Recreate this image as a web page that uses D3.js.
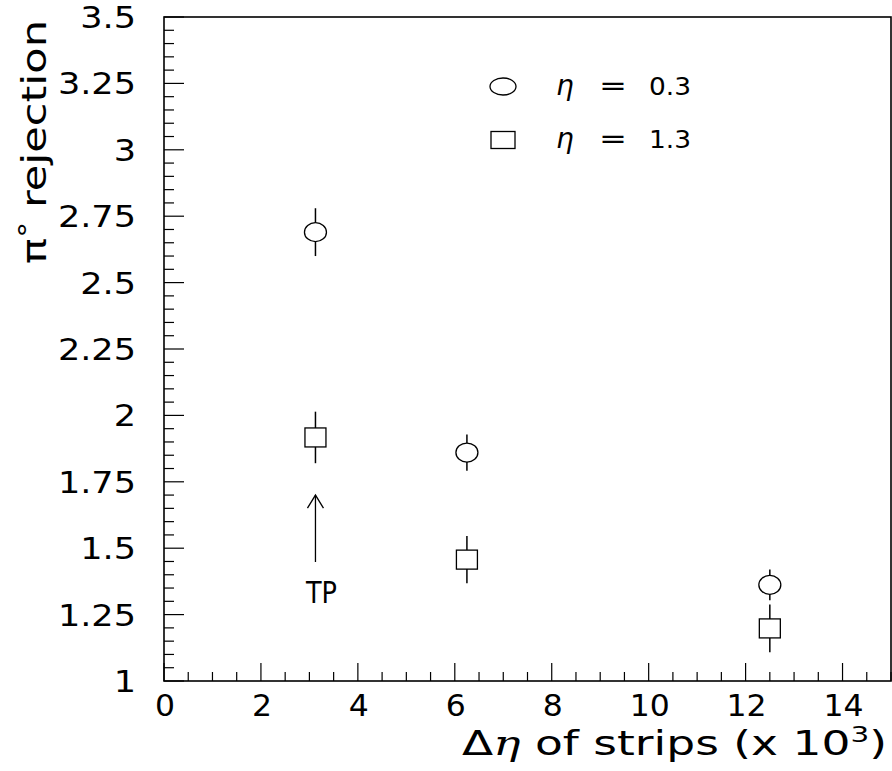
<!DOCTYPE html>
<html><head><meta charset="utf-8">
<script src="https://cdn.jsdelivr.net/npm/d3@7"></script>
<style>body{margin:0;background:#fff}svg{display:block}text{font-family:"DejaVu Sans",sans-serif;fill:#000}</style>
</head><body>
<script>
// Data
const xValues = [3.125, 6.25, 12.5];
const eta03Values = [2.69, 1.86, 1.362];
const eta03Errors = [0.09, 0.068, 0.058];
const eta13Values = [1.917, 1.457, 1.198];
const eta13Errors = [0.097, 0.089, 0.09];
const yTickValues = [1, 1.25, 1.5, 1.75, 2, 2.25, 2.5, 2.75, 3, 3.25, 3.5];
const yTickLabels = ["1", "1.25", "1.5", "1.75", "2", "2.25", "2.5", "2.75", "3", "3.25", "3.5"];
const xTickValues = [0, 2, 4, 6, 8, 10, 12, 14];
const xTickLabels = ["0", "2", "4", "6", "8", "10", "12", "14"];
const legendLabels = ["0.3", "1.3"];

const W = 892, H = 771;
const L = 164, R = 891, T = 17, B = 681;
const svg = d3.select("body").append("svg").attr("width", W).attr("height", H);
const x = d3.scaleLinear().domain([0, 15]).range([L, R]);
const y = d3.scaleLinear().domain([1, 3.5]).range([B, T]);

// frame
svg.append("rect").attr("x", L).attr("y", T).attr("width", R - L).attr("height", B - T)
  .attr("fill", "none").attr("stroke", "#000").attr("stroke-width", 1.6);

// y ticks
const yMinor = d3.range(1, 3.5001, 0.05);
svg.append("g").selectAll("line").data(yMinor).join("line")
  .attr("x1", L).attr("x2", d => L + (Math.abs(d / 0.25 - Math.round(d / 0.25)) < 1e-6 ? 20 : 10))
  .attr("y1", d => y(d)).attr("y2", d => y(d)).attr("stroke", "#000").attr("stroke-width", 1.2);
svg.append("g").selectAll("text").data(yTickValues).join("text")
  .attr("transform", d => `translate(136,${y(d) + 11}) scale(1.17,1)`).attr("text-anchor", "end")
  .attr("font-size", 30)
  .text((d, i) => yTickLabels[i]);

// x ticks
const xMinor = d3.range(0, 15.0001, 0.5);
svg.append("g").selectAll("line").data(xMinor).join("line")
  .attr("x1", d => x(d)).attr("x2", d => x(d))
  .attr("y1", B).attr("y2", d => B - (Math.abs(d / 2 - Math.round(d / 2)) < 1e-6 ? 18 : 9))
  .attr("stroke", "#000").attr("stroke-width", 1.2);
svg.append("g").selectAll("text").data(xTickValues).join("text")
  .attr("transform", d => `translate(${x(d) + 1},716) scale(1.05,1)`).attr("text-anchor", "middle")
  .attr("font-size", 30)
  .text((d, i) => xTickLabels[i]);

// axis titles
const xt = svg.append("text").attr("x", 462).attr("y", 755)
  .attr("font-size", 34).attr("textLength", 425).attr("lengthAdjust", "spacingAndGlyphs");
xt.append("tspan").text("Δ");
xt.append("tspan").attr("font-style", "italic").attr("font-family", "DejaVu Serif, serif").text("η");
xt.append("tspan").text(" of strips (x 10");
xt.append("tspan").attr("font-size", 22).attr("dy", -13).text("3");
xt.append("tspan").attr("dy", 13).text(")");

const yt = svg.append("text").attr("transform", "translate(46,264) rotate(-90)")
  .attr("font-size", 34).attr("textLength", 244).attr("lengthAdjust", "spacingAndGlyphs");
yt.append("tspan").text("π");
yt.append("tspan").attr("font-size", 26).attr("dy", -8).text("°");
yt.append("tspan").attr("dy", 8).text(" rejection");

// data: error bars and markers
const gs = [
  {v: eta03Values, e: eta03Errors, shape: "circle"},
  {v: eta13Values, e: eta13Errors, shape: "square"}
];
gs.forEach(s => {
  const g = svg.append("g");
  xValues.forEach((xv, i) => {
    const cx = x(xv), cy = y(s.v[i]);
    const hh = 9.5;
    g.append("line").attr("x1", cx).attr("x2", cx).attr("y1", y(s.v[i] + s.e[i])).attr("y2", cy - hh)
      .attr("stroke", "#000").attr("stroke-width", 1.5);
    g.append("line").attr("x1", cx).attr("x2", cx).attr("y1", cy + hh).attr("y2", y(s.v[i] - s.e[i]))
      .attr("stroke", "#000").attr("stroke-width", 1.5);
    if (s.shape === "circle") {
      g.append("ellipse").attr("cx", cx).attr("cy", cy).attr("rx", 11).attr("ry", 9.5)
        .attr("fill", "none").attr("stroke", "#000").attr("stroke-width", 1.3);
    } else {
      g.append("rect").attr("x", cx - 10.5).attr("y", cy - 9.5).attr("width", 21).attr("height", 19)
        .attr("fill", "none").attr("stroke", "#000").attr("stroke-width", 1.3);
    }
  });
});

// TP arrow
const ax = x(3.125);
svg.append("line").attr("x1", ax).attr("x2", ax).attr("y1", y(1.70)).attr("y2", y(1.448))
  .attr("stroke", "#000").attr("stroke-width", 1.3);
svg.append("path").attr("d", `M${ax - 8},${y(1.70) + 13}L${ax},${y(1.70)}L${ax + 8},${y(1.70) + 13}`)
  .attr("fill", "none").attr("stroke", "#000").attr("stroke-width", 1.3);
svg.append("text").attr("x", 306).attr("y", 603)
  .attr("font-size", 31).attr("textLength", 31).attr("lengthAdjust", "spacingAndGlyphs").text("TP");

// legend
const lg = svg.append("g");
lg.append("ellipse").attr("cx", 503).attr("cy", 86.5).attr("rx", 13).attr("ry", 8.5)
  .attr("fill", "none").attr("stroke", "#000").attr("stroke-width", 1.3);
lg.append("rect").attr("x", 491).attr("y", 131.5).attr("width", 24).attr("height", 17)
  .attr("fill", "none").attr("stroke", "#000").attr("stroke-width", 1.3);
legendLabels.forEach((lab, i) => {
  const by = 95 + i * 53;
  lg.append("text").attr("x", 556).attr("y", by).attr("font-size", 28)
    .attr("font-style", "italic").attr("font-family", "DejaVu Serif, serif").text("η");
  lg.append("text").attr("x", 599).attr("y", by).attr("font-size", 26)
    .attr("textLength", 28).attr("lengthAdjust", "spacingAndGlyphs").text("=");
  lg.append("text").attr("x", 649).attr("y", by).attr("font-size", 25)
    .attr("textLength", 42).attr("lengthAdjust", "spacingAndGlyphs").text(lab);
});
</script>
</body></html>
